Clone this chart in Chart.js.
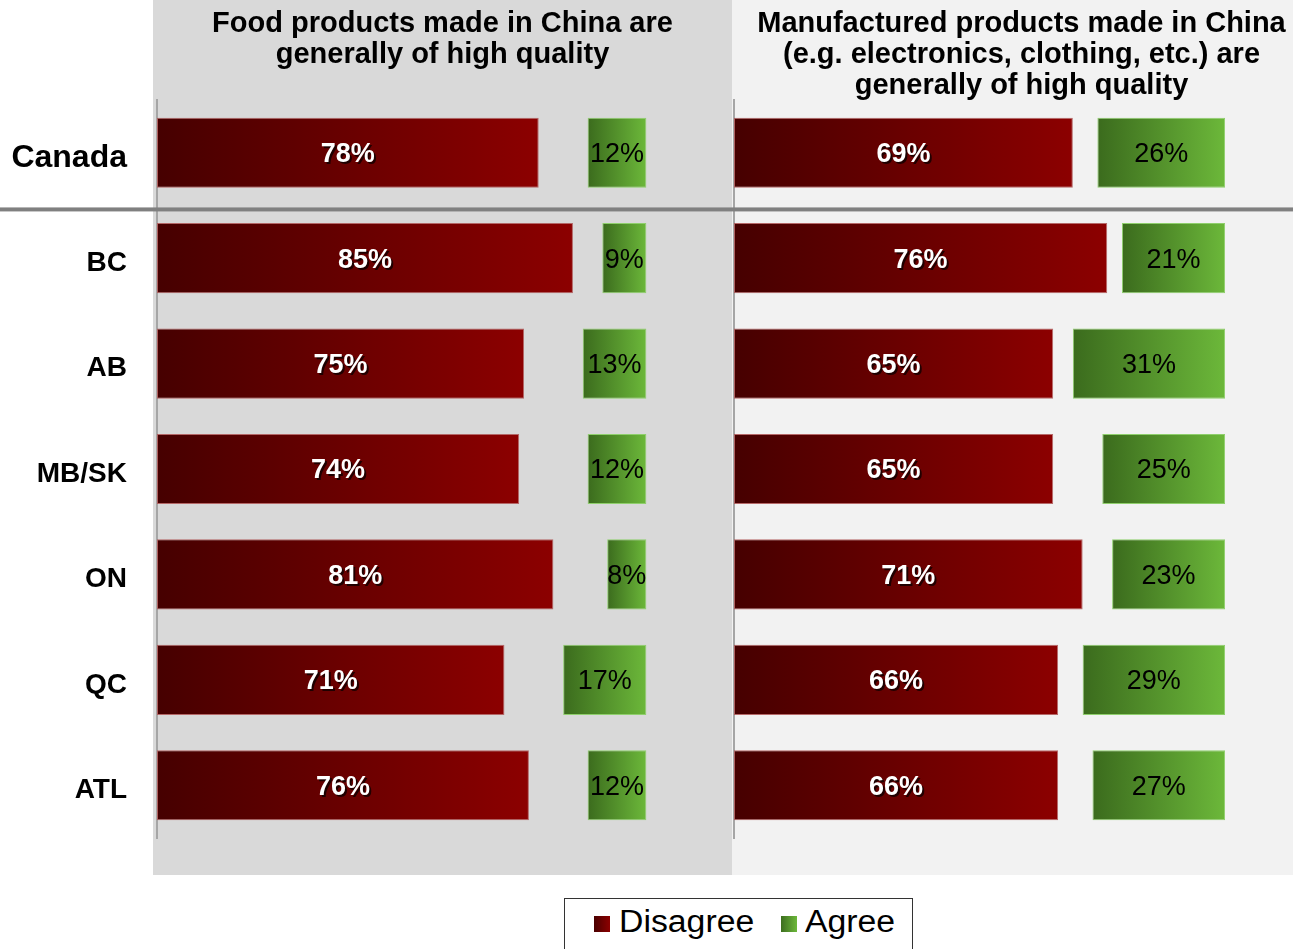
<!DOCTYPE html>
<html>
<head>
<meta charset="utf-8">
<script src="https://cdn.jsdelivr.net/npm/chart.js@4"></script>
<style>
    body { margin: 0; background: #fff; font-family: "Liberation Sans", Arial, sans-serif; }
    #wrap { position: relative; width: 1293px; height: 949px; overflow: hidden; }
    #food-graph { position: absolute; left: 0; top: 0; }
    #manu-graph { position: absolute; left: 732px; top: 0; }
    #legend {
        position: absolute; left: 564px; top: 898px; width: 347px; height: 70px;
        border: 1px solid #333; background: #fff;
    }
    #legend span.box { position: absolute; top: 17px; width: 16px; height: 16px; }
    #legend span.txt {
        position: absolute; top: 5px; font-size: 31px; color: #000;
        transform: scaleX(1.09); transform-origin: left center;
    }
</style>
</head>
<body>
<div id="wrap">
    <canvas id="food-graph" width="732" height="875"></canvas>
    <canvas id="manu-graph" width="579" height="875"></canvas>
    <div id="legend">
        <span class="box" style="left:29px;background:linear-gradient(to right,#4a0000,#8c0000);"></span>
        <span class="txt" style="left:54px;">Disagree</span>
        <span class="box" style="left:216px;background:linear-gradient(to right,#3d6e1f,#6cb83a);"></span>
        <span class="txt" style="left:240px;">Agree</span>
    </div>
</div>
<script>
var regions = ['Canada', 'BC', 'AB', 'MB/SK', 'ON', 'QC', 'ATL'];

var foodTitle = ['Food products made in China are', 'generally of high quality'];
var foodDisagree = [78, 85, 75, 74, 81, 71, 76];
var foodAgree = [12, 9, 13, 12, 8, 17, 12];

var manuTitle = ['Manufactured products made in China', '(e.g. electronics, clothing, etc.) are', 'generally of high quality'];
var manuDisagree = [69, 76, 65, 65, 71, 66, 66];
var manuAgree = [26, 21, 31, 25, 23, 29, 27];

var FONT = '"Liberation Sans", Arial, sans-serif';

// horizontal gradient spanning each bar from its start to its end
function barGradient(from, to) {
    return function(ctx) {
        var chart = ctx.chart;
        if (ctx.type !== 'data' || !chart.chartArea) return to;
        var x = chart.scales.x;
        var raw = ctx.raw;
        var s = Array.isArray(raw) ? raw[0] : 0;
        var e = Array.isArray(raw) ? raw[1] : raw;
        var g = chart.ctx.createLinearGradient(x.getPixelForValue(s), 0, x.getPixelForValue(e), 0);
        g.addColorStop(0, from);
        g.addColorStop(1, to);
        return g;
    };
}

var panelPlugin = {
    id: 'panel',
    beforeDraw: function(chart, args, opts) {
        var c = chart.ctx;
        c.save();
        c.fillStyle = opts.color;
        c.fillRect(opts.left, 0, chart.width - opts.left, opts.bottom);
        // title lines
        c.fillStyle = '#000';
        c.font = 'bold 29px ' + FONT;
        c.textAlign = 'center';
        c.textBaseline = 'middle';
        for (var i = 0; i < opts.title.length; i++) {
            c.fillText(opts.title[i], opts.titleX, 24 + i * 31);
        }
        c.restore();
    },
    afterDraw: function(chart) {
        // separator between Canada and the regions
        var y = chart.scales.y;
        var sy = (y.getPixelForValue(0) + y.getPixelForValue(1)) / 2 + 4;
        var c = chart.ctx;
        c.save();
        c.fillStyle = '#808080';
        c.fillRect(0, sy - 2, chart.width, 4);
        c.restore();
    }
};

var valuePlugin = {
    id: 'values',
    afterDatasetsDraw: function(chart) {
        var c = chart.ctx;
        c.save();
        c.textAlign = 'center';
        c.textBaseline = 'middle';
        chart.data.datasets.forEach(function(ds, di) {
            chart.getDatasetMeta(di).data.forEach(function(bar, i) {
                var raw = ds.data[i];
                var v = Array.isArray(raw) ? raw[1] - raw[0] : raw;
                var cx = (bar.x + bar.base) / 2;
                if (di === 0) {
                    c.font = 'bold 27px ' + FONT;
                    c.fillStyle = 'rgba(0,0,0,0.7)';
                    c.fillText(v + '%', cx + 2, bar.y + 4);
                    c.fillStyle = '#fff';
                } else {
                    c.font = '27px ' + FONT;
                    c.fillStyle = '#000';
                }
                c.fillText(v + '%', cx, bar.y + 2);
            });
        });
        c.restore();
    }
};

function makeChart(id, disagree, agree, title, opts) {
    var ctx = document.getElementById(id).getContext('2d');
    return new Chart(ctx, {
        type: 'bar',
        data: {
            labels: regions,
            datasets: [{
                label: 'Disagree',
                data: disagree,
                backgroundColor: barGradient('#460000', '#8c0000'),
                borderColor: 'rgba(175,90,90,0.9)',
                borderWidth: 1,
                borderSkipped: false
            }, {
                label: 'Agree',
                data: agree.map(function(a) { return [100 - a, 100]; }),
                backgroundColor: barGradient('#3b6b1d', '#6cb83a'),
                borderColor: '#8fcf6c',
                borderWidth: 1,
                borderSkipped: false
            }]
        },
        options: {
            indexAxis: 'y',
            responsive: false,
            animation: false,
            grouped: false,
            categoryPercentage: 1,
            barPercentage: 0.665,
            layout: { padding: { top: 100, bottom: 37, left: 0, right: 0 } },
            scales: {
                x: { display: false, min: 0, max: 117.5 },
                y: {
                    grid: { display: false, drawTicks: false },
                    border: { display: true, color: '#a6a6a6', width: 2 },
                    ticks: {
                        display: opts.ticks,
                        padding: 30,
                        labelOffset: 5,
                        color: '#000',
                        font: function(c) {
                            return { family: FONT, weight: 'bold', size: c.index === 0 ? 32 : 28 };
                        }
                    },
                    afterFit: function(scale) {
                        scale.width = opts.axisWidth;
                        scale.paddingTop = 0;
                        scale.paddingBottom = 0;
                    }
                }
            },
            plugins: {
                legend: { display: false },
                tooltip: { enabled: false },
                panel: { color: opts.bg, left: opts.bgLeft, bottom: 875, title: title, titleX: opts.titleX }
            }
        },
        plugins: [panelPlugin, valuePlugin]
    });
}

var food_graph = makeChart('food-graph', foodDisagree, foodAgree, foodTitle,
    { ticks: true, axisWidth: 157, bg: '#d9d9d9', bgLeft: 153, titleX: 442.5 });
var manu_graph = makeChart('manu-graph', manuDisagree, manuAgree, manuTitle,
    { ticks: false, axisWidth: 2, bg: '#f2f2f2', bgLeft: 0, titleX: 289.5 });
</script>
</body>
</html>
